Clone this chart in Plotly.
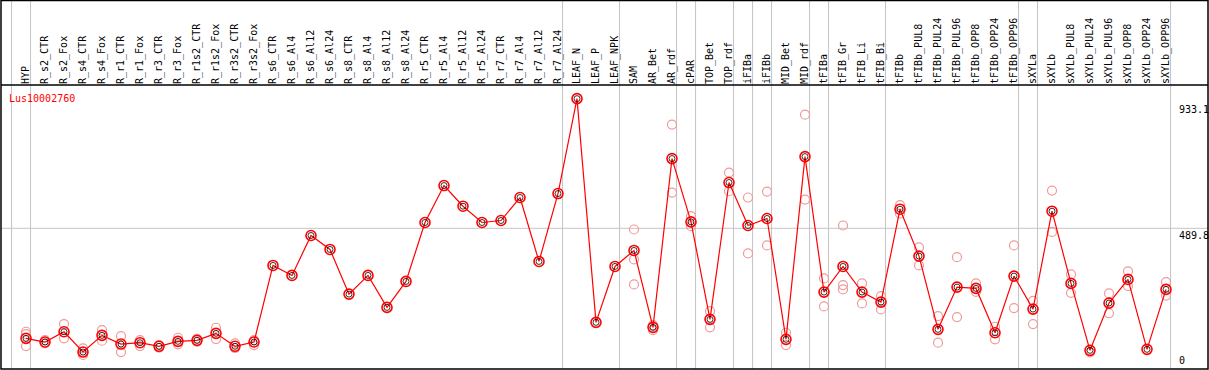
import plotly.graph_objects as go

categories = ["HYP", "R_s2_CTR", "R_s2_Fox", "R_s4_CTR", "R_s4_Fox", "R_r1_CTR", "R_r1_Fox",
              "R_r3_CTR", "R_r3_Fox", "R_r1s2_CTR", "R_r1s2_Fox", "R_r3s2_CTR", "R_r3s2_Fox",
              "R_s6_CTR", "R_s6_Al4", "R_s6_Al12", "R_s6_Al24", "R_s8_CTR", "R_s8_Al4", "R_s8_Al12",
              "R_s8_Al24", "R_r5_CTR", "R_r5_Al4", "R_r5_Al12", "R_r5_Al24", "R_r7_CTR", "R_r7_Al4",
              "R_r7_Al12", "R_r7_Al24", "LEAF_N", "LEAF_P", "LEAF_NPK", "SAM", "AR_Bet", "AR_rdf",
              "cPAR", "TOP_Bet", "TOP_rdf", "iFIBa", "iFIBb", "MID_Bet", "MID_rdf", "tFIBa",
              "tFIB_Gr", "tFIB_Li", "tFIB_Bi", "tFIBb", "tFIBb_PUL8", "tFIBb_PUL24", "tFIBb_PUL96",
              "tFIBb_OPP8", "tFIBb_OPP24", "tFIBb_OPP96", "sXYLa", "sXYLb", "sXYLb_PUL8",
              "sXYLb_PUL24", "sXYLb_PUL96", "sXYLb_OPP8", "sXYLb_OPP24", "sXYLb_OPP96"]

mean_values = [113.7, 101.1, 136.2, 66.9, 123.9, 94.2, 98.7, 86.4, 103.4, 106.9, 130.8, 86.4, 101.1,
               362.9, 328.8, 465.3, 417.5, 264.9, 328.8, 219.5, 308.3, 509.7, 636.0, 565.4, 509.7,
               516.5, 595.1, 376.6, 608.7, 933.1, 168.3, 359.5, 414.1, 151.2, 728.2, 511.8, 178.6,
               646.3, 499.5, 523.4, 110.3, 735.0, 271.8, 359.5, 271.8, 237.6, 555.1, 394.7, 144.4,
               288.8, 284.4, 132.8, 326.4, 213.7, 548.3, 301.5, 72.7, 234.2, 315.1, 76.1, 281.0]

replicate_values = [
    [136.2, 128.4, 87.4], [107.9, 96.6], [162.5, 113.7], [79.5, 67.9, 56.7], [142.0, 105.5],
    [121.5, 66.9], [107.9, 87.4], [90.8, 81.6], [115.7, 93.2], [112.3, 102.1], [149.9, 111.3],
    [96.6, 80.6], [107.9, 90.8],
    [], [], [], [], [], [], [], [], [], [], [], [], [], [], [], [], [], [], [],
    [485.8, 383.4, 298.0], [159.1, 142.0], [844.3, 612.1], [531.2, 497.1], [206.9, 151.2],
    [680.4, 616.6], [595.1, 403.9], [615.5, 431.2], [132.8, 90.8], [878.4, 588.2],
    [318.5, 222.9], [499.5, 295.7, 281.0], [301.5, 233.2], [258.1, 212.7], [568.8, 540.4],
    [424.4, 362.9], [189.8, 98.7], [391.2, 186.4], [301.5, 272.8], [153.3, 110.3],
    [431.2, 217.1], [242.1, 162.5], [619.0, 477.6], [332.2, 269.4], [65.9], [267.3, 199.4],
    [342.8, 292.2], [], [305.9, 259.8]]

group_last = ["HYP", "R_r7_Al24", "LEAF_NPK", "AR_rdf", "cPAR", "TOP_rdf", "iFIBa", "iFIBb",
              "MID_rdf", "tFIBa", "tFIB_Bi", "tFIBb_OPP96", "sXYLa", "sXYLb_OPP96"]

gene_name = "Lus10002760"
y_labels = ["933.1", "489.8", "0"]

max_val = max(mean_values)
y_top = max_val * 1.05
mid_val = 489.8

x_idx = list(range(len(categories)))
MONO = "DejaVu Sans Mono"

fig = go.Figure()

rep_x, rep_y = [], []
for i, reps in enumerate(replicate_values):
    for r in reps:
        rep_x.append(i)
        rep_y.append(r)

fig.add_trace(go.Scatter(x=rep_x, y=rep_y, mode="markers",
                         marker=dict(symbol="circle-open", size=9, color="#f09a9a",
                                     line=dict(width=1.2, color="#f09a9a")),
                         hoverinfo="skip", showlegend=False))
fig.add_trace(go.Scatter(x=x_idx, y=mean_values, mode="lines",
                         line=dict(color="#ff0000", width=1.2), showlegend=False, hoverinfo="skip"))
fig.add_trace(go.Scatter(x=x_idx, y=mean_values, mode="markers",
                         marker=dict(symbol="circle-open", size=10, color="#ff0000",
                                     line=dict(width=1.6, color="#ff0000")),
                         showlegend=False))
fig.add_trace(go.Scatter(x=x_idx, y=mean_values, mode="markers",
                         marker=dict(symbol="circle-open", size=6, color="#000000",
                                     line=dict(width=0.8, color="#000000")),
                         showlegend=False, hoverinfo="skip"))

W, H = 1209, 370
ml, mr, mt, mb = 1, 1, 85, 1
plot_h = H - mt - mb
top_paper = (plot_h + mt - 0.5) / plot_h

shapes = []
for name in group_last:
    xi = categories.index(name) + 0.24
    shapes.append(dict(type="line", xref="x", yref="paper", x0=xi, x1=xi, y0=0, y1=top_paper,
                       line=dict(color="#c4c4c4", width=1), layer="below"))
shapes.append(dict(type="line", xref="x", yref="paper", x0=-1 + 0.24, x1=-1 + 0.24, y0=0, y1=top_paper,
                   line=dict(color="#c4c4c4", width=1), layer="below"))
shapes.append(dict(type="line", xref="paper", yref="y", x0=0, x1=1, y0=mid_val, y1=mid_val,
                   line=dict(color="#c4c4c4", width=1), layer="below"))
shapes.append(dict(type="rect", xref="paper", yref="paper", x0=0, x1=1, y0=0, y1=top_paper,
                   line=dict(color="#000000", width=1.5)))
shapes.append(dict(type="line", xref="paper", yref="paper", x0=0, x1=1, y0=1, y1=1,
                   line=dict(color="#000000", width=1.5)))

lab_x = (1177 - ml) / (W - ml - mr)
annotations = [
    dict(text=gene_name, xref="paper", yref="paper", x=(7 - ml) / (W - ml - mr), y=(H - mb - 91) / plot_h,
         xanchor="left", yanchor="top", showarrow=False, font=dict(family=MONO, size=10, color="#ff0000")),
    dict(text=y_labels[0], xref="paper", yref="y", x=lab_x, y=max_val, xanchor="left", yanchor="top",
         yshift=-3, showarrow=False, font=dict(family=MONO, size=10, color="#000000")),
    dict(text=y_labels[1], xref="paper", yref="y", x=lab_x, y=mid_val, xanchor="left", yanchor="top",
         showarrow=False, font=dict(family=MONO, size=10, color="#000000")),
    dict(text=y_labels[2], xref="paper", yref="paper", x=lab_x, y=0.005, xanchor="left", yanchor="bottom",
         showarrow=False, font=dict(family=MONO, size=10, color="#000000")),
]

left_px = 26 - ml
x0 = -left_px / 19.0
x1 = x0 + (W - ml - mr) / 19.0
px_per_unit = 287.0 / y_top
y_bottom = (371.6 - (H - mb)) / px_per_unit

fig.update_layout(
    width=W, height=H,
    margin=dict(l=ml, r=mr, t=mt, b=mb),
    paper_bgcolor="#ffffff", plot_bgcolor="#ffffff",
    shapes=shapes, annotations=annotations,
    xaxis=dict(range=[x0, x1], side="top", tickmode="array", tickvals=x_idx, ticktext=categories,
               tickangle=-90, tickfont=dict(family=MONO, size=10, color="#000000"),
               showgrid=False, zeroline=False, showline=False, ticks="", fixedrange=True),
    yaxis=dict(range=[y_bottom, y_top], showgrid=False, zeroline=False, showticklabels=False,
               showline=False, ticks="", fixedrange=True),
    showlegend=False,
)

fig.write_html("out.html", config={"displayModeBar": False},
               post_script="document.body.style.margin='0';document.body.style.overflow='hidden';")
